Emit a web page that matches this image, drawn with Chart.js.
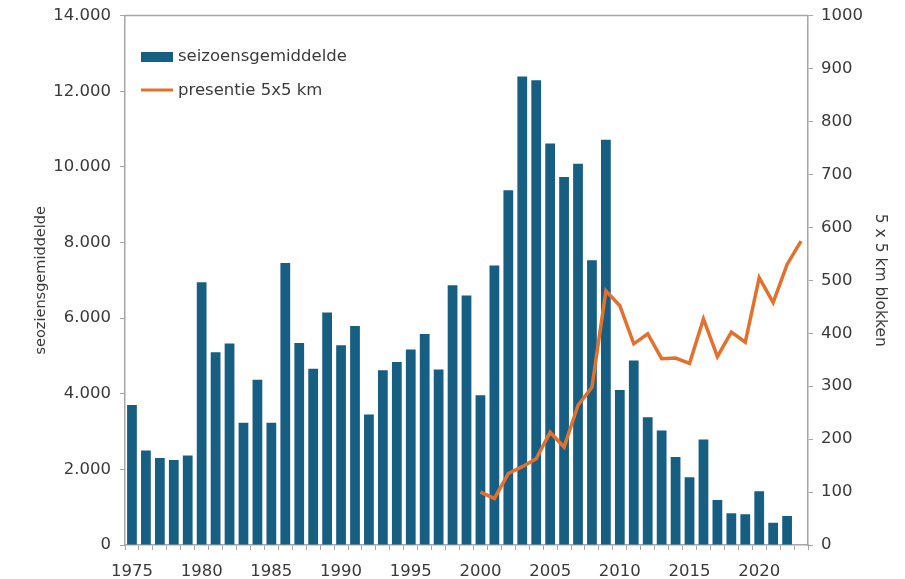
<!DOCTYPE html>
<html>
<head>
<meta charset="utf-8">
<script src="https://cdn.jsdelivr.net/npm/chart.js@4"></script>
<style>
    html, body { margin: 0; padding: 0; background: #fff; }
    #wrap { width: 905px; height: 579px; }
</style>
</head>
<body>
<div id="wrap"><canvas id="myChart" width="905" height="579"></canvas></div>
<script>
// jaren 1975 - 2023
const jaren = [];
for (let j = 1975; j <= 2023; j++) jaren.push(String(j));

// seizoensgemiddelde (linker as), 1975 - 2022
const seizoensgemiddelde = [
    3700, 2500, 2300, 2250, 2370, 6950, 5100, 5330, 3230, 4370,
    3230, 7460, 5340, 4660, 6150, 5280, 5790, 3450, 4620, 4840,
    5170, 5580, 4640, 6870, 6600, 3960, 7390, 9380, 12390, 12290,
    10620, 9730, 10080, 7530, 10720, 4100, 4880, 3380, 3030, 2330,
    1790, 2790, 1190, 840, 810, 1420, 590, 770, null
];

// presentie 5x5 km blokken (rechter as), 2000 - 2023
const presentie = [
    100, 88, 135, 148, 163, 213, 185, 264, 298, 480,
    452, 380, 399, 352, 353, 343, 427, 356, 402, 383,
    505, 458, 530, 574
];
const presentieReeks = new Array(25).fill(null).concat(presentie);

const linkerTicks = [0, 2000, 4000, 6000, 8000, 10000, 12000, 14000];
const rechterTicks = [0, 100, 200, 300, 400, 500, 600, 700, 800, 900, 1000];

const fontNaam = "'DejaVu Sans', sans-serif";
const tekstKleur = '#3a3a3a';
const asKleur = '#a6a6a6';

// legenda binnen het plotvlak + bovenrand
const legendaPlugin = {
    id: 'legendaBinnen',
    afterDraw(chart) {
        const c = chart.ctx;
        const area = chart.chartArea;
        c.save();
        c.strokeStyle = asKleur;
        c.lineWidth = 1.5;
        c.beginPath();
        c.moveTo(area.left, area.top);
        c.lineTo(area.right, area.top);
        c.stroke();

        const sets = chart.data.datasets;
        c.font = '16.5px ' + fontNaam;
        c.textBaseline = 'middle';
        // balk
        c.fillStyle = sets[1].backgroundColor;
        c.fillRect(area.left + 16, 52, 32, 10);
        c.fillStyle = tekstKleur;
        c.fillText(sets[1].label, area.left + 53, 57);
        // lijn
        c.strokeStyle = sets[0].borderColor;
        c.lineWidth = 3;
        c.beginPath();
        c.moveTo(area.left + 16, 90);
        c.lineTo(area.left + 48, 90);
        c.stroke();
        c.fillText(sets[0].label, area.left + 53, 91);
        c.restore();
    }
};

const ctx = document.getElementById('myChart').getContext('2d');
const myChart = new Chart(ctx, {
    type: 'bar',
    data: {
        labels: jaren,
        datasets: [
            {
                type: 'line',
                label: 'presentie 5x5 km',
                data: presentieReeks,
                yAxisID: 'y1',
                borderColor: '#e4702d',
                borderWidth: 3.5,
                pointRadius: 0,
                tension: 0,
                spanGaps: false,
                order: 0
            },
            {
                label: 'seizoensgemiddelde',
                data: seizoensgemiddelde,
                yAxisID: 'y',
                backgroundColor: '#175e83',
                barPercentage: 0.7,
                categoryPercentage: 1.0,
                order: 1
            }
        ]
    },
    plugins: [legendaPlugin],
    options: {
        responsive: false,
        animation: false,
        layout: { padding: { top: 14, bottom: 0, left: 0, right: 0 } },
        plugins: {
            legend: { display: false },
            tooltip: { enabled: false }
        },
        scales: {
            x: {
                offset: true,
                grid: {
                    offset: true,
                    drawOnChartArea: false,
                    drawTicks: true,
                    tickLength: 5,
                    color: asKleur
                },
                border: { color: asKleur, width: 1.5 },
                ticks: {
                    autoSkip: false,
                    maxRotation: 0,
                    color: tekstKleur,
                    font: { family: fontNaam, size: 16.5 },
                    padding: 12,
                    callback: function (val, i) {
                        const j = Number(jaren[i]);
                        return j % 5 === 0 ? String(j) : '';
                    }
                },
                afterFit(scale) { scale.height = 34; }
            },
            y: {
                position: 'left',
                min: 0,
                max: 14000,
                afterBuildTicks(scale) { scale.ticks = linkerTicks.map(v => ({ value: v })); },
                grid: { drawOnChartArea: false, tickLength: 5, color: asKleur },
                border: { color: asKleur, width: 1.5 },
                ticks: {
                    color: tekstKleur,
                    font: { family: fontNaam, size: 16.5, lineHeight: 0.8 },
                    padding: 9,
                    callback: v => v.toLocaleString('nl-NL')
                },
                title: {
                    display: true,
                    text: 'seoziensgemiddelde',
                    color: tekstKleur,
                    font: { family: fontNaam, size: 14.5 },
                    padding: { top: 33, bottom: 4 }
                },
                afterFit(scale) { scale.width = 125; }
            },
            y1: {
                position: 'right',
                min: 0,
                max: 1000,
                afterBuildTicks(scale) { scale.ticks = rechterTicks.map(v => ({ value: v })); },
                grid: { drawOnChartArea: false, tickLength: 5, color: asKleur },
                border: { color: asKleur, width: 1.5 },
                ticks: {
                    color: tekstKleur,
                    font: { family: fontNaam, size: 16.5, lineHeight: 0.8 },
                    padding: 8,
                    callback: v => String(v)
                },
                title: {
                    display: true,
                    text: '5 x 5 km blokken',
                    color: tekstKleur,
                    font: { family: fontNaam, size: 15.5 },
                    padding: { top: 16, bottom: 4 }
                },
                afterFit(scale) { scale.width = 97; }
            }
        }
    }
});
</script>
</body>
</html>
